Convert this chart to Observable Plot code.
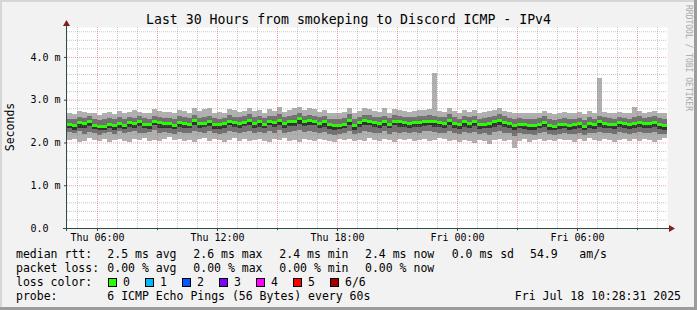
<!DOCTYPE html>
<html><head><meta charset="utf-8">
<script src="https://cdn.jsdelivr.net/npm/d3@7"></script>
<script src="https://cdn.jsdelivr.net/npm/@observablehq/plot@0.6"></script>
<style>
html,body{margin:0;padding:0;background:#f2f2f2;}
#wrap{position:relative;width:697px;height:310px;overflow:hidden;}
svg text{font-family:"DejaVu Sans Mono",monospace;}
</style></head><body><div id="wrap"></div>
<script>
// ---- data (milliseconds), 15-minute buckets from Thu 04:30 to Fri 10:30 ----
const startTime = "2025-07-17T04:30:00Z";
const endTime = "2025-07-18T10:30:00Z";
const bucketMinutes = 15;

const medianRtt = [
2.42,2.40,2.47,2.45,2.50,2.40,2.38,2.38,2.42,2.40,2.44,2.40,2.46,2.45,2.48,2.42,2.42,2.50,2.46,2.45,
2.44,2.40,2.47,2.45,2.43,2.52,2.45,2.45,2.48,2.43,2.42,2.44,2.50,2.47,2.45,2.47,2.52,2.45,2.48,2.43,
2.50,2.47,2.52,2.45,2.48,2.50,2.55,2.48,2.52,2.50,2.45,2.48,2.42,2.40,2.40,2.43,2.52,2.40,2.46,2.52,
2.50,2.47,2.45,2.50,2.43,2.50,2.48,2.47,2.45,2.46,2.47,2.48,2.50,2.48,2.47,2.45,2.52,2.45,2.42,2.48,
2.45,2.48,2.42,2.43,2.45,2.48,2.52,2.47,2.44,2.40,2.43,2.42,2.40,2.40,2.43,2.47,2.40,2.38,2.42,2.43,
2.40,2.41,2.44,2.38,2.45,2.42,2.48,2.44,2.43,2.42,2.46,2.44,2.42,2.45,2.47,2.44,2.45,2.47,2.42,2.40];

const pingMin = [
2.05,2.08,2.02,2.04,2.10,2.06,2.03,2.08,2.02,2.05,2.07,2.04,2.02,2.08,2.05,2.10,2.03,2.06,2.04,2.08,
2.12,2.05,2.08,2.03,2.06,2.02,2.08,2.10,2.04,2.07,2.05,2.02,2.06,2.10,2.04,2.08,2.03,2.06,2.09,2.04,
2.02,2.07,2.05,2.10,2.04,2.06,2.02,2.08,2.05,2.03,2.09,2.06,2.04,2.02,2.07,2.05,2.08,2.03,2.06,2.04,
2.10,2.05,2.03,2.08,2.06,2.02,2.07,2.05,2.09,2.04,2.06,2.08,2.03,2.05,2.10,2.07,2.04,2.06,2.02,2.05,
2.03,1.98,2.06,2.04,1.97,2.05,2.09,2.03,2.06,1.86,2.04,2.07,2.02,2.05,2.08,2.03,2.06,2.04,2.09,2.05,
2.06,2.02,2.08,2.04,2.10,2.06,2.03,2.07,2.05,2.02,2.06,2.09,2.04,2.07,2.03,2.08,2.05,2.02,2.06,2.10];

const ping2 = [
2.24,2.22,2.27,2.20,2.25,2.22,2.18,2.21,2.24,2.20,2.26,2.22,2.24,2.27,2.23,2.21,2.25,2.28,2.22,2.24,
2.22,2.20,2.25,2.23,2.21,2.26,2.24,2.22,2.27,2.21,2.20,2.23,2.26,2.24,2.22,2.25,2.27,2.22,2.24,2.21,
2.26,2.23,2.28,2.22,2.25,2.27,2.30,2.24,2.27,2.25,2.22,2.24,2.20,2.18,2.19,2.22,2.26,2.20,2.23,2.27,
2.25,2.23,2.22,2.26,2.20,2.24,2.23,2.25,2.22,2.24,2.23,2.26,2.27,2.24,2.23,2.21,2.26,2.22,2.20,2.24,
2.22,2.25,2.20,2.21,2.18,2.24,2.27,2.23,2.22,2.16,2.21,2.20,2.19,2.18,2.21,2.24,2.19,2.17,2.20,2.21,
2.19,2.20,2.22,2.17,2.23,2.21,2.25,2.22,2.21,2.20,2.24,2.22,2.20,2.23,2.25,2.21,2.23,2.25,2.20,2.19];

const ping3 = [
2.33,2.30,2.35,2.34,2.39,2.31,2.28,2.30,2.33,2.30,2.35,2.31,2.36,2.34,2.38,2.33,2.32,2.40,2.35,2.35,
2.34,2.31,2.37,2.35,2.33,2.41,2.35,2.36,2.38,2.32,2.32,2.35,2.40,2.36,2.35,2.38,2.41,2.35,2.37,2.33,
2.40,2.36,2.42,2.35,2.38,2.39,2.44,2.38,2.41,2.40,2.35,2.37,2.32,2.30,2.31,2.33,2.41,2.30,2.36,2.41,
2.40,2.36,2.35,2.39,2.33,2.40,2.37,2.37,2.35,2.36,2.36,2.38,2.40,2.37,2.37,2.35,2.41,2.35,2.32,2.37,
2.35,2.38,2.32,2.33,2.34,2.37,2.41,2.37,2.34,2.30,2.33,2.31,2.30,2.30,2.33,2.36,2.30,2.28,2.32,2.33,
2.30,2.31,2.34,2.28,2.35,2.32,2.37,2.34,2.33,2.31,2.36,2.34,2.32,2.35,2.36,2.34,2.35,2.36,2.32,2.30];

const ping4 = [
2.44,2.43,2.49,2.47,2.52,2.43,2.41,2.40,2.45,2.42,2.46,2.43,2.48,2.47,2.50,2.45,2.44,2.52,2.48,2.47,
2.46,2.43,2.49,2.47,2.46,2.54,2.47,2.48,2.50,2.45,2.45,2.46,2.52,2.49,2.48,2.49,2.54,2.48,2.50,2.46,
2.52,2.50,2.54,2.48,2.50,2.52,2.57,2.50,2.54,2.52,2.48,2.50,2.45,2.43,2.42,2.46,2.54,2.43,2.48,2.54,
2.52,2.49,2.48,2.52,2.46,2.52,2.50,2.49,2.48,2.48,2.49,2.51,2.52,2.50,2.49,2.48,2.54,2.48,2.45,2.50,
2.47,2.50,2.45,2.46,2.48,2.50,2.54,2.49,2.47,2.43,2.45,2.45,2.43,2.42,2.45,2.49,2.43,2.41,2.44,2.46,
2.43,2.43,2.46,2.41,2.47,2.44,2.50,2.47,2.45,2.44,2.48,2.47,2.44,2.47,2.49,2.46,2.48,2.49,2.45,2.43];

const ping5 = [
2.56,2.54,2.60,2.58,2.62,2.55,2.52,2.54,2.57,2.55,2.59,2.55,2.60,2.58,2.62,2.57,2.56,2.63,2.60,2.58,
2.58,2.55,2.61,2.59,2.57,2.65,2.58,2.60,2.62,2.57,2.56,2.58,2.64,2.60,2.59,2.61,2.66,2.59,2.62,2.57,
2.63,2.61,2.66,2.59,2.62,2.64,2.68,2.62,2.65,2.63,2.59,2.62,2.56,2.54,2.55,2.58,2.66,2.55,2.60,2.65,
2.64,2.60,2.59,2.63,2.57,2.64,2.62,2.60,2.59,2.60,2.61,2.62,2.64,2.62,2.60,2.59,2.66,2.59,2.56,2.62,
2.59,2.62,2.56,2.57,2.59,2.62,2.66,2.61,2.58,2.55,2.57,2.56,2.54,2.55,2.57,2.61,2.55,2.53,2.56,2.58,
2.55,2.55,2.58,2.53,2.60,2.56,2.62,2.59,2.57,2.56,2.60,2.58,2.56,2.59,2.61,2.58,2.60,2.62,2.57,2.55];

const pingMax = [
2.70,2.66,2.74,2.72,2.68,2.70,2.64,2.68,2.72,2.66,2.74,2.70,2.72,2.76,2.72,2.70,2.68,2.78,2.74,2.72,
2.72,2.68,2.76,2.74,2.70,2.80,2.74,2.78,2.80,2.70,2.72,2.70,2.78,2.76,2.72,2.74,2.80,2.74,2.76,2.70,
2.78,2.74,2.82,2.72,2.76,2.80,2.84,2.76,2.80,2.78,2.72,2.76,2.70,2.68,2.70,2.72,2.80,2.68,2.74,2.80,
2.78,2.74,2.72,2.80,2.70,2.78,2.76,2.74,2.72,2.74,2.76,2.76,2.78,3.63,2.74,2.72,2.80,2.74,2.70,2.76,
2.72,2.76,2.70,2.72,2.74,2.76,2.80,2.74,2.72,2.68,2.70,2.70,2.68,2.68,2.70,2.74,2.68,2.66,2.70,2.72,
2.68,2.70,2.72,2.66,2.74,2.70,3.51,2.72,2.70,2.68,2.72,2.70,2.68,2.84,2.74,2.70,2.72,2.74,2.70,2.68];

// axis ticks
const yMajorTicks = [0, 1, 2, 3, 4];
const yMinorTicks = [0.2,0.4,0.6,0.8,1.2,1.4,1.6,1.8,2.2,2.4,2.6,2.8,3.2,3.4,3.6,3.8,4.2,4.4,4.6];
const xLabelTicks = ["2025-07-17T06:00:00Z","2025-07-17T12:00:00Z","2025-07-17T18:00:00Z","2025-07-18T00:00:00Z","2025-07-18T06:00:00Z"];

// legend texts
const titleText = "Last 30 Hours from smokeping to Discord ICMP - IPv4";
const rttLabels = ["median rtt:", "2.5 ms avg", "2.6 ms max", "2.4 ms min", "2.4 ms now", "0.0 ms sd", "54.9", "am/s"];
const lossLabels = ["packet loss:", "0.00 % avg", "0.00 % max", "0.00 % min", "0.00 % now"];
const lossColorNames = ["0","1","2","3","4","5","6/6"];
const lossColors = ["#26ff00","#00b8ff","#0059ff","#7e00ff","#ff00ff","#ff0000","#a10000"];
const probeText = "6 ICMP Echo Pings (56 Bytes) every 60s";
const dateText = "Fri Jul 18 10:28:31 2025";

// ---- build ----
const t0 = new Date(startTime), t1 = new Date(endTime);
const stepMs = bucketMinutes * 60000;
const rows = medianRtt.map((m, i) => ({
  a: new Date(+t0 + i * stepMs), b: new Date(+t0 + (i + 1) * stepMs),
  med: m, min: pingMin[i], p2: ping2[i], p3: ping3[i], p4: ping4[i], p5: ping5[i], max: pingMax[i]
}));
const xMinor = d3.utcHour.every(1).range(new Date(+t0 + 1), t1).filter(d => d.getUTCHours() % 3 !== 0);
const xMajor = d3.utcHour.every(3).range(new Date(+t0 + 1), t1);
const xLabels = xLabelTicks.map(s => new Date(s));
const medHalf = 0.036;

const gridGray = {stroke: "#8f8f8f", strokeOpacity: 0.5, strokeDasharray: "1,1"};
const gridRed = {stroke: "#e05050", strokeOpacity: 0.5, strokeDasharray: "1,1"};

const chart = Plot.plot({
  width: 697, height: 310,
  marginLeft: 67, marginRight: 30, marginTop: 27, marginBottom: 82,
  style: {background: "#f2f2f2", fontFamily: "DejaVu Sans Mono", fontSize: "10px", color: "#000", overflow: "visible"},
  x: {type: "utc", domain: [t0, t1]},
  y: {domain: [0, 4.7]},
  marks: [
    Plot.frame({fill: "white", stroke: "none"}),
    Plot.rect(rows, {x1: "a", x2: "b", y1: "min", y2: "max", fill: "#b0b0b0", shapeRendering: "crispEdges"}),
    Plot.rect(rows, {x1: "a", x2: "b", y1: "p2", y2: "p5", fill: "#717171", shapeRendering: "crispEdges"}),
    Plot.rect(rows, {x1: "a", x2: "b", y1: "p3", y2: "p4", fill: "#323232", shapeRendering: "crispEdges"}),
    Plot.rect(rows, {x1: "a", x2: "b", y1: d => d.med - medHalf, y2: d => d.med + medHalf, fill: lossColors[0], shapeRendering: "crispEdges"}),
    Plot.gridY(yMinorTicks, gridGray),
    Plot.gridX(xMinor, gridGray),
    Plot.gridY(yMajorTicks.filter(d => d > 0), gridRed),
    Plot.gridX(xMajor, gridRed),
    Plot.axisY(yMajorTicks, {tickSize: 3, tickPadding: 4, stroke: "#2c4d43", fill: "#000", fontSize: 10,
      tickFormat: d => d === 0 ? "0.0\u00a0\u00a0" : d.toFixed(1) + " m", label: null}),
    Plot.axisX(xMajor, {tickSize: 2, tickFormat: () => "", stroke: "#2c4d43", label: null}),
    Plot.axisX(xLabels, {tickSize: 3, tickPadding: 2, stroke: "#2c4d43", fill: "#000", fontSize: 10,
      tickFormat: d3.utcFormat("%a %H:%M"), label: null})
  ]
});

document.getElementById("wrap").appendChild(chart);
const svg = d3.select(chart);
const xs = chart.scale("x"), ys = chart.scale("y");
const X0 = xs.apply(t0), X1 = xs.apply(t1), Y0 = ys.apply(0), Ytop = ys.apply(4.7);

// axis lines and arrows
svg.append("line").attr("x1", X0 - 4).attr("x2", X1 + 3).attr("y1", Y0 + 0.5).attr("y2", Y0 + 0.5)
  .attr("stroke", "#2c4d43").attr("stroke-width", 1);
svg.append("line").attr("x1", X0 - 0.5).attr("x2", X0 - 0.5).attr("y1", Y0 + 3).attr("y2", Ytop - 3)
  .attr("stroke", "#2c4d43").attr("stroke-width", 1);
svg.append("path").attr("d", `M${X1 + 2},${Y0 - 3} L${X1 + 8},${Y0 + 0.5} L${X1 + 2},${Y0 + 4} Z`).attr("fill", "#7f1f1f");
svg.append("path").attr("d", `M${X0 - 4},${Ytop - 1} L${X0 - 0.5},${Ytop - 7} L${X0 + 3},${Ytop - 1} Z`).attr("fill", "#7f1f1f");

// frame shading
svg.append("rect").attr("x", 0).attr("y", 0).attr("width", 697).attr("height", 2).attr("fill", "#d6d6d6");
svg.append("rect").attr("x", 0).attr("y", 0).attr("width", 2).attr("height", 310).attr("fill", "#d6d6d6");
svg.append("rect").attr("x", 0).attr("y", 307).attr("width", 697).attr("height", 3).attr("fill", "#9c9c9c");
svg.append("rect").attr("x", 694).attr("y", 0).attr("width", 3).attr("height", 310).attr("fill", "#9c9c9c");

const txt = (x, y, s, size, anchor) => svg.append("text").attr("x", x).attr("y", y)
  .attr("text-anchor", anchor || "start").style("font-size", size).attr("fill", "#000").text(s);

// title
txt(348.5, 24, titleText, "13.2px", "middle");
// y label
svg.append("text").attr("transform", "translate(14,127) rotate(-90)").attr("text-anchor", "middle")
  .style("font-size", "11.5px").attr("fill", "#000").text("Seconds");
// watermark
svg.append("text").attr("transform", "translate(686,5) rotate(90)").attr("text-anchor", "start")
  .style("font-size", "8px").attr("fill", "#a8a8a8").text("RRDTOOL / TOBI OETIKER");

// legend
const lf = "11.5px";
const rttX = [16, 107.3, 193.3, 279.3, 365, 451.7, 530, 579.3];
rttLabels.forEach((t, i) => txt(rttX[i], 258, t, lf));
const lossX = [16, 107.3, 193.3, 279.3, 365];
lossLabels.forEach((t, i) => txt(lossX[i], 272, t, lf));
txt(16, 286, "loss color:", lf);
lossColorNames.forEach((n, i) => {
  const bx = 108.5 + i * 37;
  svg.append("rect").attr("x", bx).attr("y", 278.5).attr("width", 8).attr("height", 8)
    .attr("fill", lossColors[i]).attr("stroke", "#000").attr("stroke-width", 1);
  txt(bx + 14.5, 286, n, lf);
});
txt(16, 300, "probe:", lf);
txt(107.3, 300, probeText, lf);
txt(681, 300, dateText, lf, "end");
</script></body></html>
